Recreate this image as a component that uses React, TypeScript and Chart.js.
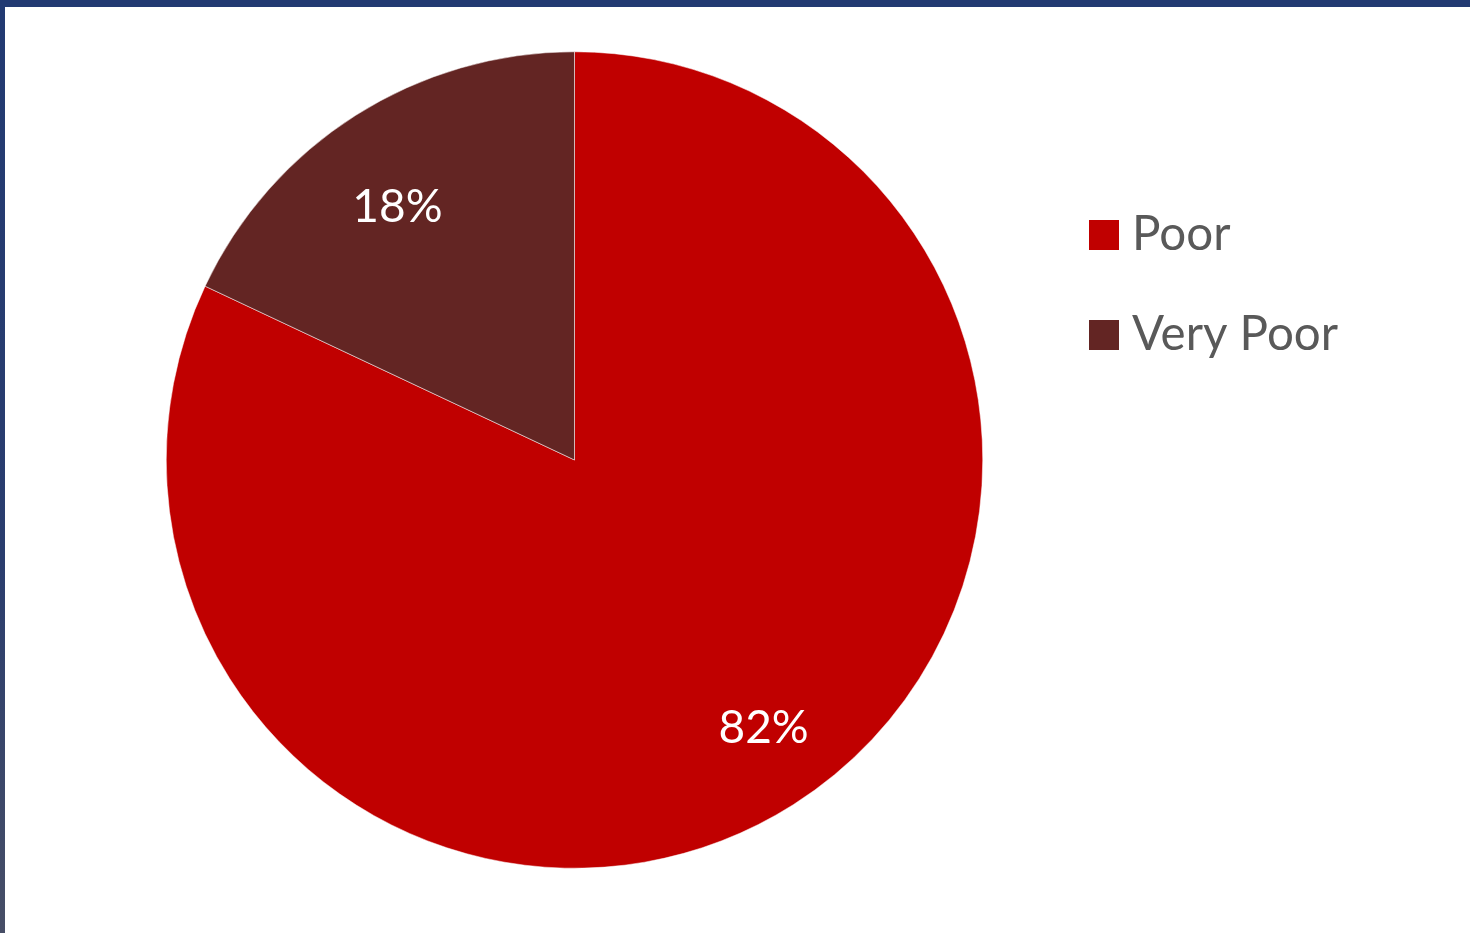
import React, { useEffect, useRef } from "react";
import { Chart, registerables } from "chart.js";

Chart.register(...registerables);

const categories = ["Poor", "Very Poor"];
const values = [82, 18];
const valueLabels = ["82%", "18%"];
const colors = ["#C00000", "#632523"];

const FONT = "Lato, 'Open Sans', sans-serif";

const labelPlugin = {
  id: "sliceLabels",
  afterDatasetsDraw(chart: any) {
    const ctx = chart.ctx;
    const meta = chart.getDatasetMeta(0);
    ctx.save();
    ctx.fillStyle = "#ffffff";
    ctx.font = `46px ${FONT}`;
    ctx.textAlign = "center";
    ctx.textBaseline = "middle";
    meta.data.forEach((arc: any, i: number) => {
      const p = arc.getProps(["x", "y", "startAngle", "endAngle", "outerRadius"], true);
      const mid = (p.startAngle + p.endAngle) / 2 - (2.7 * Math.PI) / 180;
      const r = p.outerRadius * 0.78;
      ctx.fillText(valueLabels[i], p.x + Math.cos(mid) * r + 6, p.y + Math.sin(mid) * r + 8);
    });
    ctx.restore();
  },
};

const legendPlugin = {
  id: "sideLegend",
  afterDraw(chart: any) {
    const ctx = chart.ctx;
    ctx.save();
    ctx.font = `47.5px ${FONT}`;
    ctx.textBaseline = "middle";
    ctx.textAlign = "left";
    categories.forEach((c, i) => {
      const y = 235 + i * 100;
      ctx.fillStyle = colors[i];
      ctx.fillRect(1089, y - 15, 30, 30);
      ctx.fillStyle = "#595959";
      ctx.fillText(c, 1132, y);
    });
    ctx.restore();
  },
};

export default function App() {
  const ref = useRef<HTMLCanvasElement | null>(null);
  useEffect(() => {
    document.body.style.margin = "0";
    if (!ref.current) return;
    const chart = new Chart(ref.current, {
      type: "pie",
      data: {
        labels: categories,
        datasets: [
          {
            data: values,
            backgroundColor: colors,
            borderColor: "#ffffff",
            borderWidth: 0.5,
          },
        ],
      },
      options: {
        animation: false,
        responsive: false,
        maintainAspectRatio: false,
        layout: { padding: { left: 166, right: 487, top: 51, bottom: 64 } },
        plugins: {
          legend: { display: false },
          tooltip: { enabled: false },
        },
      },
      plugins: [labelPlugin, legendPlugin],
    });
    return () => chart.destroy();
  }, []);
  return (
    <div style={{ position: "relative", width: 1470, height: 933, background: "#fff", overflow: "hidden" }}>
      <canvas ref={ref} width={1470} height={933} style={{ position: "absolute", left: 0, top: 0 }} />
      <div style={{ position: "absolute", left: 0, top: 0, width: 1470, height: 7, background: "#223A72" }} />
      <div
        style={{
          position: "absolute",
          left: 0,
          top: 0,
          width: 5,
          height: 933,
          background: "linear-gradient(#223A72, #2a3d6e 60%, #474E66)",
        }}
      />
    </div>
  );
}
